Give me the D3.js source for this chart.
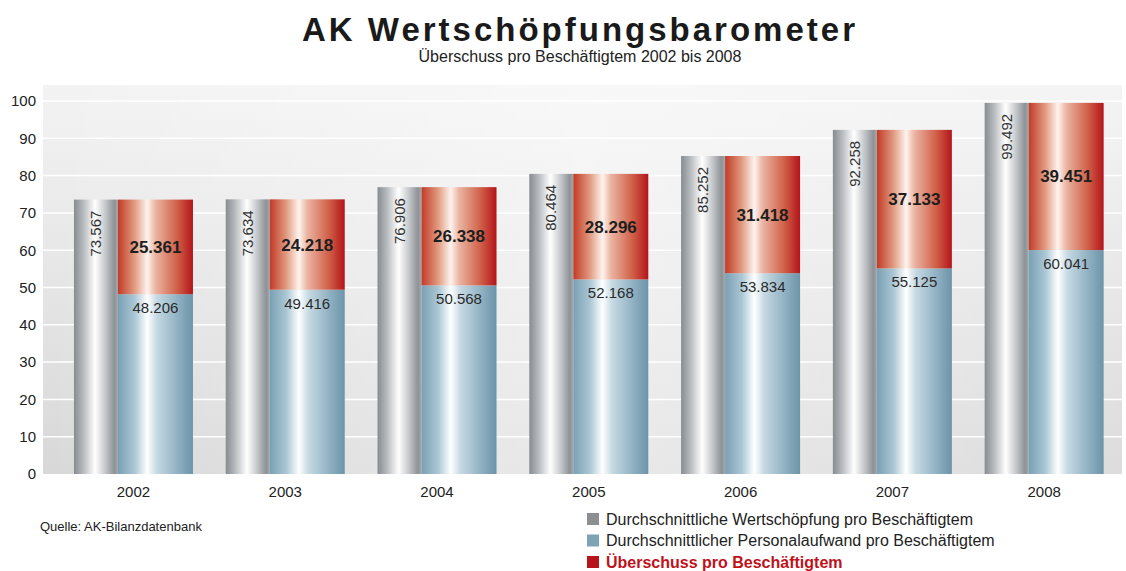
<!DOCTYPE html>
<html>
<head>
<meta charset="utf-8">
<script src="https://cdn.jsdelivr.net/npm/d3@7"></script>
<style>
  html, body { margin: 0; padding: 0; background: #fff; }
  svg { display: block; font-family: "Liberation Sans", Arial, sans-serif; }
</style>
</head>
<body>
<svg id="chart" width="1126" height="571"></svg>
<script>
// data (German notation, "." = thousands separator)
var years = ["2002", "2003", "2004", "2005", "2006", "2007", "2008"];
var wertschoepfung = [73.567, 73.634, 76.906, 80.464, 85.252, 92.258, 99.492];
var personalaufwand = [48.206, 49.416, 50.568, 52.168, 53.834, 55.125, 60.041];
var ueberschuss = [25.361, 24.218, 26.338, 28.296, 31.418, 37.133, 39.451];
var yTicks = [0, 10, 20, 30, 40, 50, 60, 70, 80, 90, 100];
var legendLabels = [
  "Durchschnittliche Wertschöpfung pro Beschäftigtem",
  "Durchschnittlicher Personalaufwand pro Beschäftigtem",
  "Überschuss pro Beschäftigtem"
];

var svg = d3.select("#chart");
var fmt = function (v) { return v.toFixed(3); };

var plot = { left: 43, right: 1122, top: 85, bottom: 474 };

var y = d3.scaleLinear().domain([0, 100]).range([474, 101]);
var x = d3.scaleBand().domain(years).range([43.6, 1134]).paddingInner(0.216).paddingOuter(0.2);

// gradients
var defs = svg.append("defs");
function hGrad(id, stops) {
  var g = defs.append("linearGradient").attr("id", id)
    .attr("x1", "0%").attr("x2", "100%").attr("y1", "0%").attr("y2", "0%");
  stops.forEach(function (s) {
    g.append("stop").attr("offset", s[0]).attr("stop-color", s[1]);
  });
}
hGrad("gGrey", [["0%", "#878c91"], ["20%", "#b4b8bb"], ["48%", "#ffffff"], ["72%", "#c3c6c9"], ["92%", "#8d9296"], ["100%", "#a4a8ab"]]);
hGrad("gRed", [["0%", "#c23a26"], ["22%", "#e09a80"], ["39%", "#fff3ee"], ["50%", "#eab5a2"], ["80%", "#cf5c45"], ["100%", "#b3141a"]]);
hGrad("gBlue", [["0%", "#7aa0b4"], ["22%", "#a9c6d4"], ["39%", "#ffffff"], ["52%", "#c5d9e3"], ["85%", "#86a9bb"], ["100%", "#6c94a9"]]);

var bg = defs.append("linearGradient").attr("id", "gBg")
  .attr("x1", "0%").attr("x2", "0%").attr("y1", "0%").attr("y2", "100%");
bg.append("stop").attr("offset", "0%").attr("stop-color", "#f3f3f3");
bg.append("stop").attr("offset", "100%").attr("stop-color", "#d8d8d8");
var bg2 = defs.append("linearGradient").attr("id", "gBg2")
  .attr("x1", "0%").attr("x2", "100%").attr("y1", "0%").attr("y2", "0%");
bg2.append("stop").attr("offset", "0%").attr("stop-color", "#ffffff").attr("stop-opacity", 0);
bg2.append("stop").attr("offset", "50%").attr("stop-color", "#ffffff").attr("stop-opacity", 0.45);
bg2.append("stop").attr("offset", "100%").attr("stop-color", "#ffffff").attr("stop-opacity", 0.1);

// title
svg.append("text").attr("x", 580).attr("y", 41).attr("text-anchor", "middle")
  .style("font-size", "33px").style("font-weight", "bold").style("letter-spacing", "3px")
  .attr("fill", "#1a1a1a").text("AK Wertschöpfungsbarometer");
svg.append("text").attr("x", 580).attr("y", 62).attr("text-anchor", "middle")
  .style("font-size", "16px").attr("fill", "#222")
  .text("Überschuss pro Beschäftigtem 2002 bis 2008");

// plot background
svg.append("rect").attr("x", plot.left).attr("y", plot.top)
  .attr("width", plot.right - plot.left).attr("height", plot.bottom - plot.top)
  .attr("fill", "url(#gBg)");
svg.append("rect").attr("x", plot.left).attr("y", plot.top)
  .attr("width", plot.right - plot.left).attr("height", plot.bottom - plot.top)
  .attr("fill", "url(#gBg2)");

// gridlines
svg.append("g").selectAll("line").data(yTicks.slice(1)).join("line")
  .attr("x1", plot.left).attr("x2", plot.right)
  .attr("y1", function (d) { return y(d); }).attr("y2", function (d) { return y(d); })
  .attr("stroke", "#ffffff").attr("stroke-width", 1.5);

// y axis labels
var yAxis = svg.append("g").attr("transform", "translate(36,0)")
  .call(d3.axisLeft(y).tickValues(yTicks).tickSize(0).tickPadding(0));
yAxis.select(".domain").remove();
yAxis.selectAll("text").style("font-size", "15px").attr("fill", "#222")
  .style("font-family", "Liberation Sans, Arial, sans-serif");

// x axis labels
var xAxis = svg.append("g").attr("transform", "translate(0," + y(0) + ")")
  .call(d3.axisBottom(x).tickSize(0).tickPadding(12));
xAxis.select(".domain").remove();
xAxis.selectAll("text").style("font-size", "15px").attr("fill", "#222")
  .style("font-family", "Liberation Sans, Arial, sans-serif");

// bars
var greyW = 44;
var groups = svg.append("g").selectAll("g").data(years).join("g");

groups.each(function (yr, i) {
  var g = d3.select(this);
  var x0 = x(yr);
  var bw = x.bandwidth();
  var x1 = x0 + greyW;
  var w2 = bw - greyW;

  g.append("rect").attr("x", x0).attr("y", y(wertschoepfung[i]))
    .attr("width", greyW).attr("height", y(0) - y(wertschoepfung[i]))
    .attr("fill", "url(#gGrey)");
  g.append("rect").attr("x", x1).attr("y", y(personalaufwand[i]))
    .attr("width", w2).attr("height", y(0) - y(personalaufwand[i]))
    .attr("fill", "url(#gBlue)");
  var top = personalaufwand[i] + ueberschuss[i];
  g.append("rect").attr("x", x1).attr("y", y(top))
    .attr("width", w2).attr("height", y(personalaufwand[i]) - y(top))
    .attr("fill", "url(#gRed)");

  // rotated grey label
  var gx = x0 + greyW / 2 + 5;
  var gy = y(wertschoepfung[i]) + 11;
  g.append("text").attr("transform", "translate(" + gx + "," + gy + ") rotate(-90)")
    .attr("text-anchor", "end").style("font-size", "15px").attr("fill", "#333")
    .text(fmt(wertschoepfung[i]));

  // red label
  var ry = (y(top) + y(personalaufwand[i])) / 2 + 6;
  g.append("text").attr("x", x1 + w2 / 2).attr("y", ry).attr("text-anchor", "middle")
    .style("font-size", "17px").style("font-weight", "bold").attr("fill", "#1e1e1e")
    .text(fmt(ueberschuss[i]));

  // blue label
  g.append("text").attr("x", x1 + w2 / 2).attr("y", y(personalaufwand[i]) + 19)
    .attr("text-anchor", "middle").style("font-size", "15px").attr("fill", "#2a2a2a")
    .text(fmt(personalaufwand[i]));
});

// source
svg.append("text").attr("x", 40).attr("y", 531).style("font-size", "13px").attr("fill", "#222")
  .text("Quelle: AK-Bilanzdatenbank");

// legend
var legendColors = ["#8c8f92", "#7ea3b7", "#b8141c"];
var legend = svg.append("g").selectAll("g").data(legendLabels).join("g")
  .attr("transform", function (d, i) { return "translate(587," + (513 + i * 21.5) + ")"; });
legend.append("rect").attr("width", 12).attr("height", 12)
  .attr("fill", function (d, i) { return legendColors[i]; });
legend.append("text").attr("x", 19).attr("y", 11.5)
  .style("font-size", "16px")
  .style("font-weight", function (d, i) { return i === 2 ? "bold" : "normal"; })
  .attr("fill", function (d, i) { return i === 2 ? "#c0121b" : "#222"; })
  .text(function (d) { return d; });
</script>
</body>
</html>
